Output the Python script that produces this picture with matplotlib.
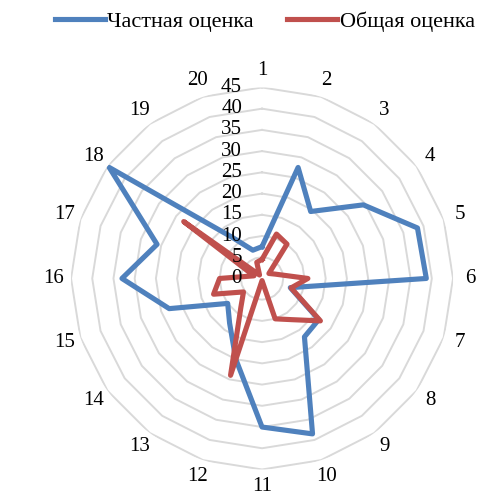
import numpy as np
import matplotlib.pyplot as plt
from matplotlib.transforms import offset_copy

plt.rcParams['font.family'] = ['Liberation Serif', 'DejaVu Serif']

categories = [str(i) for i in range(1, 21)]
private_score = [7.5, 27.5, 19.5, 29.5, 38.5, 38.7, 7, 16.5, 17, 38.5,
                 35, 20, 13, 10, 23, 33, 26, 44.5, 12, 7]
total_score = [4.5, 11, 10, 2, 3.3, 10.8, 7.2, 17, 12, 10,
               0.5, 24, 8.5, 5.4, 12, 10, 2, 22.8, 1, 4]
ring_values = [0, 5, 10, 15, 20, 25, 30, 35, 40, 45]

n = len(categories)
angles = np.linspace(0, 2 * np.pi, n, endpoint=False)
closed = np.append(angles, angles[0])

fig = plt.figure(figsize=(4.93, 5.04), dpi=100)
ax = fig.add_axes([0.144, 0.0685, 0.775, 0.758], projection='polar')
ax.set_theta_zero_location('N')
ax.set_theta_direction(-1)
ax.set_ylim(0, 45)
ax.grid(False)
ax.set_xticks([])
ax.set_yticks([])
ax.spines['polar'].set_visible(False)

# polygon gridlines like the Excel radar chart
for v in ring_values[1:]:
    ax.plot(closed, [v] * (n + 1), color='#d9d9d9', lw=1.4, zorder=1)

ax.plot(closed, private_score + private_score[:1], color='#4F81BD', lw=3.7,
        label='Частная оценка', zorder=3)
ax.plot(closed, total_score + total_score[:1], color='#C0504D', lw=3.7,
        label='Общая оценка', zorder=4)

# value axis labels left of the vertical axis
lbl_tr = offset_copy(ax.transData, fig=fig, x=-20, y=0, units='dots')
for v in ring_values:
    ax.text(0, v, str(v), transform=lbl_tr, ha='right', va='center',
            fontsize=15, zorder=5)

# category labels
for a, c in zip(angles, categories):
    ax.text(a, 49, c, ha='center', va='center', fontsize=15, clip_on=False)

fig.legend(loc='center', bbox_to_anchor=(265 / 493, 1 - 22 / 504), ncol=2,
           frameon=False, fontsize=16, handlelength=2.25, handletextpad=0.1,
           columnspacing=1.5)

fig.savefig('out.png', dpi=100)
